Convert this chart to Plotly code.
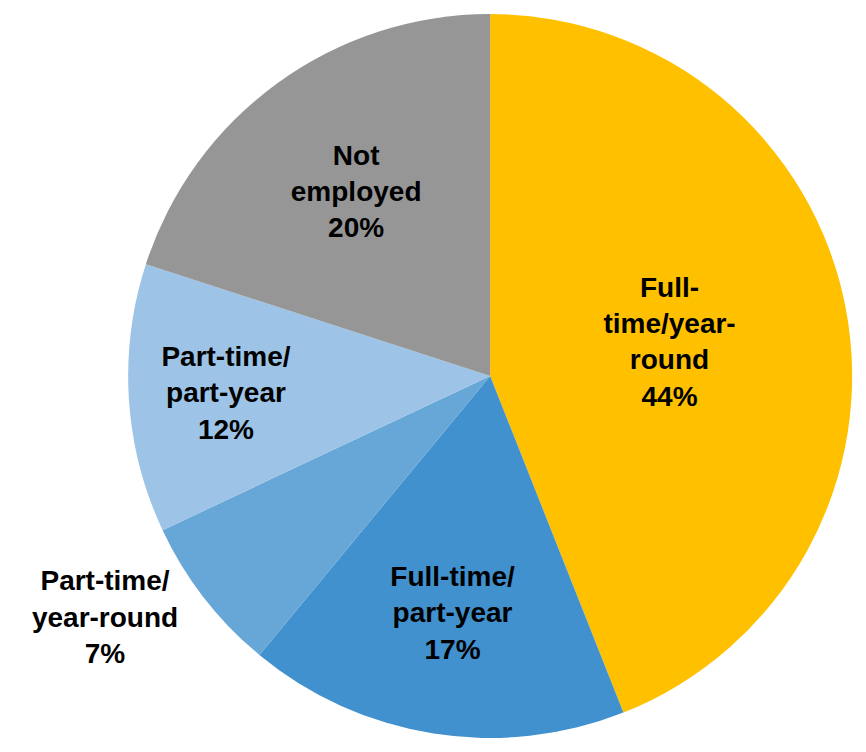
import plotly.graph_objects as go

categories = ["Full-time/year-round", "Full-time/part-year", "Part-time/year-round",
              "Part-time/part-year", "Not employed"]
values = [44, 17, 7, 12, 20]
label_text = ["Full-<br>time/year-<br>round<br>44%", "Full-time/<br>part-year<br>17%",
              "Part-time/<br>year-round<br>7%", "Part-time/<br>part-year<br>12%",
              "Not<br>employed<br>20%"]
colors = ["#FFC000", "#4191CF", "#66A7D8", "#9DC4E6", "#969696"]
text_positions = ["inside", "inside", "outside", "inside", "inside"]

fig = go.Figure(go.Pie(
    labels=categories,
    values=values,
    text=label_text,
    textinfo="text",
    textposition=text_positions,
    insidetextorientation="horizontal",
    sort=False,
    direction="clockwise",
    rotation=0,
    marker=dict(colors=colors, line=dict(width=0)),
    textfont=dict(family="Liberation Sans, Arial, sans-serif", size=28, color="black", weight="bold"),
    domain=dict(x=[120/850, 1.0], y=[0.0, 1.0]),
    showlegend=False,
    hoverinfo="label+percent",
))
fig.update_layout(
    width=850, height=736,
    margin=dict(l=0, r=0, t=0, b=0),
    paper_bgcolor="white",
    plot_bgcolor="white",
    uniformtext=dict(minsize=20, mode="show"),
)
fig.write_html("out.html")
